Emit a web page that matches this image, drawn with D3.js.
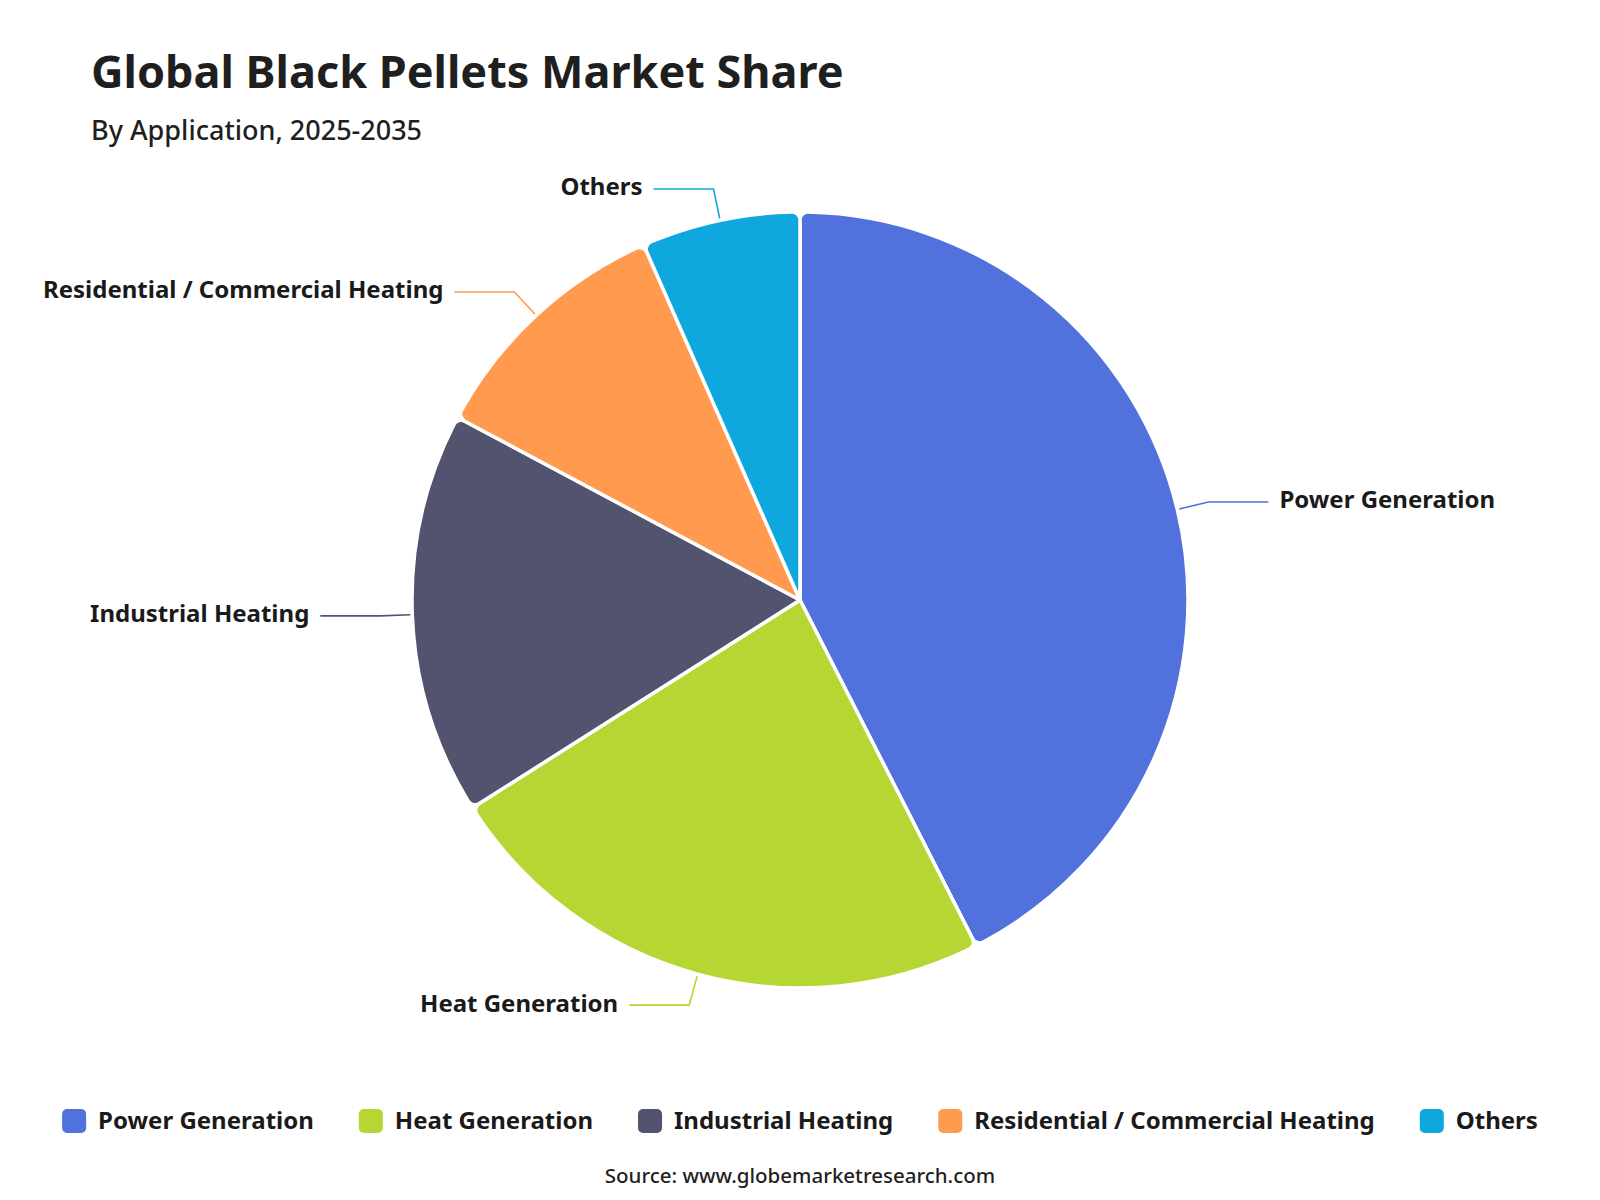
<!DOCTYPE html>
<html>
<head>
<meta charset="utf-8">
<script src="https://cdn.jsdelivr.net/npm/d3@7"></script>
<style>
  body { margin: 0; background: #fff; }
  text { font-family: "Noto Sans", "Open Sans", sans-serif; }
</style>
</head>
<body>
<div id="chart"></div>
<script>
// Data
const categories = ["Power Generation", "Heat Generation", "Industrial Heating", "Residential / Commercial Heating", "Others"];
const shares = [42.5, 23.5, 16.8, 10.6, 6.6];
const colors = ["#5171dc", "#b6d733", "#52536f", "#ff9a4e", "#0fa8de"];

const titleText = "Global Black Pellets Market Share";
const subtitleText = "By Application, 2025-2035";
const sourceText = "Source: www.globemarketresearch.com";

// SVG dimensions
const width = 1600;
const height = 1200;
const cx = 800;
const cy = 600;
const radius = 388;

const svg = d3
  .select("#chart")
  .append("svg")
  .attr("width", width)
  .attr("height", height);

// Title + subtitle
svg
  .append("text")
  .attr("x", 91)
  .attr("y", 88)
  .attr("fill", "#1f1f1f")
  .style("font-size", "45px")
  .style("font-weight", 700)
  .text(titleText);

svg
  .append("text")
  .attr("x", 91)
  .attr("y", 140)
  .attr("fill", "#1f1f1f")
  .style("font-size", "27px")
  .style("font-weight", 500)
  .text(subtitleText);

const data = categories.map((c, i) => ({ name: c, value: shares[i], color: colors[i] }));

const pie = d3
  .pie()
  .sort(null)
  .value((d) => d.value)
  .startAngle(0)
  .endAngle(2 * Math.PI);

const arc = d3.arc().innerRadius(0).outerRadius(radius).cornerRadius(8);

const arcs = pie(data);

const g = svg.append("g").attr("transform", `translate(${cx},${cy})`);

// Slices
g.selectAll("path.slice")
  .data(arcs)
  .join("path")
  .attr("class", "slice")
  .attr("d", arc)
  .attr("fill", (d) => d.data.color)
  .attr("stroke", "#fff")
  .attr("stroke-width", 3.5)
  .attr("stroke-linejoin", "round");

// Leader lines and labels
const lineStart = d3.arc().innerRadius(radius + 2).outerRadius(radius + 2);
const lineBend = d3.arc().innerRadius(radius + 32).outerRadius(radius + 32);
const length2 = 60;

arcs.forEach((d) => {
  const mid = (d.startAngle + d.endAngle) / 2;
  const p0 = lineStart.centroid({ startAngle: mid, endAngle: mid });
  const p1 = lineBend.centroid({ startAngle: mid, endAngle: mid });
  const right = Math.sin(mid) > 0;
  const p2 = [p1[0] + (right ? length2 : -length2), p1[1]];

  g.append("polyline")
    .attr("points", [p0, p1, p2].map((p) => p.join(",")).join(" "))
    .attr("fill", "none")
    .attr("stroke", d.data.color)
    .attr("stroke-width", 1.6);

  g.append("text")
    .attr("x", p2[0] + (right ? 11 : -11))
    .attr("y", p2[1] - 2)
    .attr("dy", "0.35em")
    .attr("text-anchor", right ? "start" : "end")
    .attr("fill", "#1a1a1a")
    .style("font-size", "24px")
    .style("font-weight", 700)
    .text(d.data.name);
});

// Legend, centred horizontally
const legend = svg.append("g");
let xPos = 0;
data.forEach((d) => {
  const item = legend.append("g").attr("transform", `translate(${xPos},0)`);
  item
    .append("rect")
    .attr("x", 0)
    .attr("y", -12)
    .attr("width", 24)
    .attr("height", 24)
    .attr("rx", 5)
    .attr("fill", d.color);
  const t = item
    .append("text")
    .attr("x", 36)
    .attr("dy", "0.35em")
    .attr("fill", "#1a1a1a")
    .style("font-size", "24px")
    .style("font-weight", 700)
    .text(d.name);
  xPos += 36 + t.node().getComputedTextLength() + 45;
});
const legendWidth = xPos - 45;
legend.attr("transform", `translate(${(width - legendWidth) / 2},1121)`);

// Source
svg
  .append("text")
  .attr("x", width / 2)
  .attr("y", 1183)
  .attr("text-anchor", "middle")
  .attr("fill", "#1f1f1f")
  .style("font-size", "20.5px")
  .style("font-weight", 500)
  .text(sourceText);
</script>
</body>
</html>
